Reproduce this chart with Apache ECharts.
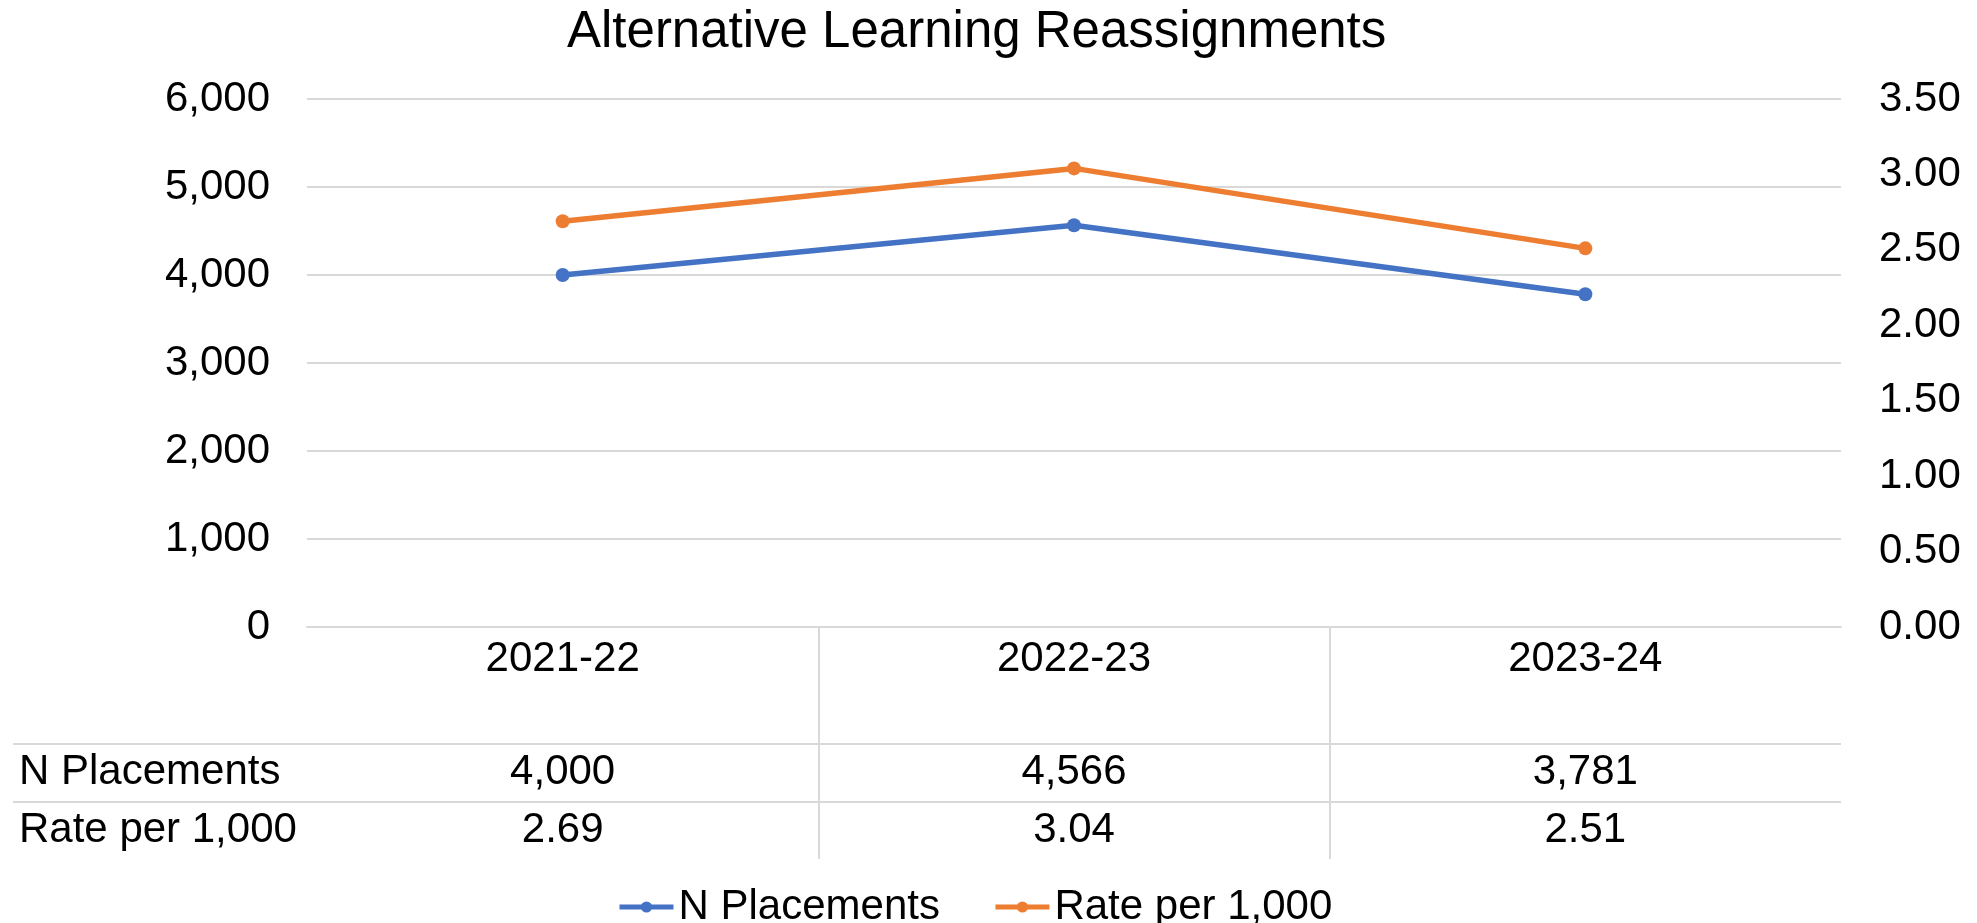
<!DOCTYPE html>
<html>
<head>
<meta charset="utf-8">
<script src="https://cdn.jsdelivr.net/npm/echarts@6/dist/echarts.min.js"></script>
<style>
  html, body { margin: 0; padding: 0; background: #fff; }
  #chart { width: 1977px; height: 923px; }
</style>
</head>
<body>
<div id="chart"></div>
<script>
// data
const categories = ['2021-22', '2022-23', '2023-24'];
const nPlacements = [4000, 4566, 3781];
const ratePer1000 = [2.69, 3.04, 2.51];
const seriesNames = ['N Placements', 'Rate per 1,000'];
const leftTicks = [0, 1000, 2000, 3000, 4000, 5000, 6000];
const rightTicks = [0, 0.5, 1, 1.5, 2, 2.5, 3, 3.5];
// table rows, header takes two row heights
const tableRows = ['', ' ', 'N Placements', 'Rate per 1,000'];

const FONT = '"Liberation Sans", Arial, sans-serif';
const BLUE = '#4472C4';
const ORANGE = '#ED7D31';
const GRID_COLOR = '#d9d9d9';

const fmtInt = v => Number(v).toLocaleString('en-US');
const fmtRate = v => Number(v).toFixed(2);

// layout
const plotLeft = 307, plotRight = 136, plotTop = 99, plotBottom = 296;
const tableTop = 628, tableHeight = 231;

const chart = echarts.init(document.getElementById('chart'));

// cells of the data table
const tableData = [];
categories.forEach((c, i) => {
    tableData.push([c, 'N Placements', nPlacements[i], 'n']);
    tableData.push([c, 'Rate per 1,000', ratePer1000[i], 'r']);
});

const option = {
    backgroundColor: '#fff',
    animation: false,
    textStyle: { fontFamily: FONT },
    title: {
        text: 'Alternative Learning Reassignments',
        left: 562,
        top: 2,
        textStyle: { fontFamily: FONT, fontSize: 51, fontWeight: 'normal', color: '#000' }
    },
    legend: {
        data: seriesNames,
        left: 612,
        top: 881,
        itemWidth: 54,
        itemHeight: 14,
        itemGap: 53,
        lineStyle: { width: 5 },
        textStyle: { fontFamily: FONT, fontSize: 42, color: '#000' }
    },
    grid: [
        { left: plotLeft, right: plotRight, top: plotTop, bottom: plotBottom },
        { left: 13, right: plotRight, top: tableTop, height: tableHeight },
        { left: plotLeft, right: plotRight, top: tableTop, height: tableHeight }
    ],
    xAxis: [
        {
            type: 'category',
            gridIndex: 0,
            data: categories,
            boundaryGap: true,
            axisLine: { lineStyle: { color: GRID_COLOR, width: 2 } },
            axisTick: { show: false },
            axisLabel: { fontFamily: FONT, fontSize: 42, color: '#000', margin: 11 }
        },
        { type: 'value', gridIndex: 1, show: false },
        {
            type: 'category',
            gridIndex: 2,
            data: categories,
            boundaryGap: true,
            axisLine: { show: false },
            axisTick: { show: false },
            axisLabel: { show: false },
            splitLine: {
                show: true,
                showMinLine: false,
                showMaxLine: false,
                lineStyle: { color: GRID_COLOR, width: 2 }
            }
        }
    ],
    yAxis: [
        {
            type: 'value',
            gridIndex: 0,
            min: leftTicks[0],
            max: leftTicks[leftTicks.length - 1],
            interval: leftTicks[1] - leftTicks[0],
            axisLine: { show: false },
            axisTick: { show: false },
            axisLabel: { fontFamily: FONT, fontSize: 42, color: '#000', margin: 37, formatter: fmtInt },
            splitLine: { lineStyle: { color: GRID_COLOR, width: 2 } }
        },
        {
            type: 'value',
            gridIndex: 0,
            position: 'right',
            min: rightTicks[0],
            max: rightTicks[rightTicks.length - 1],
            interval: rightTicks[1] - rightTicks[0],
            axisLine: { show: false },
            axisTick: { show: false },
            axisLabel: { fontFamily: FONT, fontSize: 42, color: '#000', margin: 38, formatter: fmtRate },
            splitLine: { show: false }
        },
        {
            type: 'category',
            gridIndex: 1,
            data: tableRows,
            inverse: true,
            boundaryGap: true,
            axisLine: { show: false },
            axisTick: { show: false },
            axisLabel: {
                inside: true,
                margin: 6,
                fontFamily: FONT, fontSize: 42, color: '#000',
                interval: 0
            },
            splitLine: {
                show: true,
                interval: idx => idx >= 2,
                showMaxLine: false,
                lineStyle: { color: GRID_COLOR, width: 2 }
            }
        },
        {
            type: 'category',
            gridIndex: 2,
            data: tableRows,
            inverse: true,
            show: false
        }
    ],
    series: [
        {
            name: seriesNames[0],
            type: 'line',
            xAxisIndex: 0,
            yAxisIndex: 0,
            data: nPlacements,
            color: BLUE,
            symbol: 'circle',
            symbolSize: 14,
            lineStyle: { width: 5.5, color: BLUE },
            itemStyle: { color: BLUE }
        },
        {
            name: seriesNames[1],
            type: 'line',
            xAxisIndex: 0,
            yAxisIndex: 1,
            data: ratePer1000,
            color: ORANGE,
            symbol: 'circle',
            symbolSize: 14,
            lineStyle: { width: 5.5, color: ORANGE },
            itemStyle: { color: ORANGE }
        },
        {
            name: 'table',
            type: 'scatter',
            xAxisIndex: 2,
            yAxisIndex: 3,
            symbolSize: 0,
            itemStyle: { opacity: 1 },
            data: tableData,
            label: {
                show: true,
                position: 'inside',
                fontFamily: FONT,
                fontSize: 42,
                color: '#000',
                opacity: 1,
                formatter: p => p.value[3] === 'n' ? fmtInt(p.value[2]) : fmtRate(p.value[2])
            }
        }
    ]
};

chart.setOption(option);
</script>
</body>
</html>
